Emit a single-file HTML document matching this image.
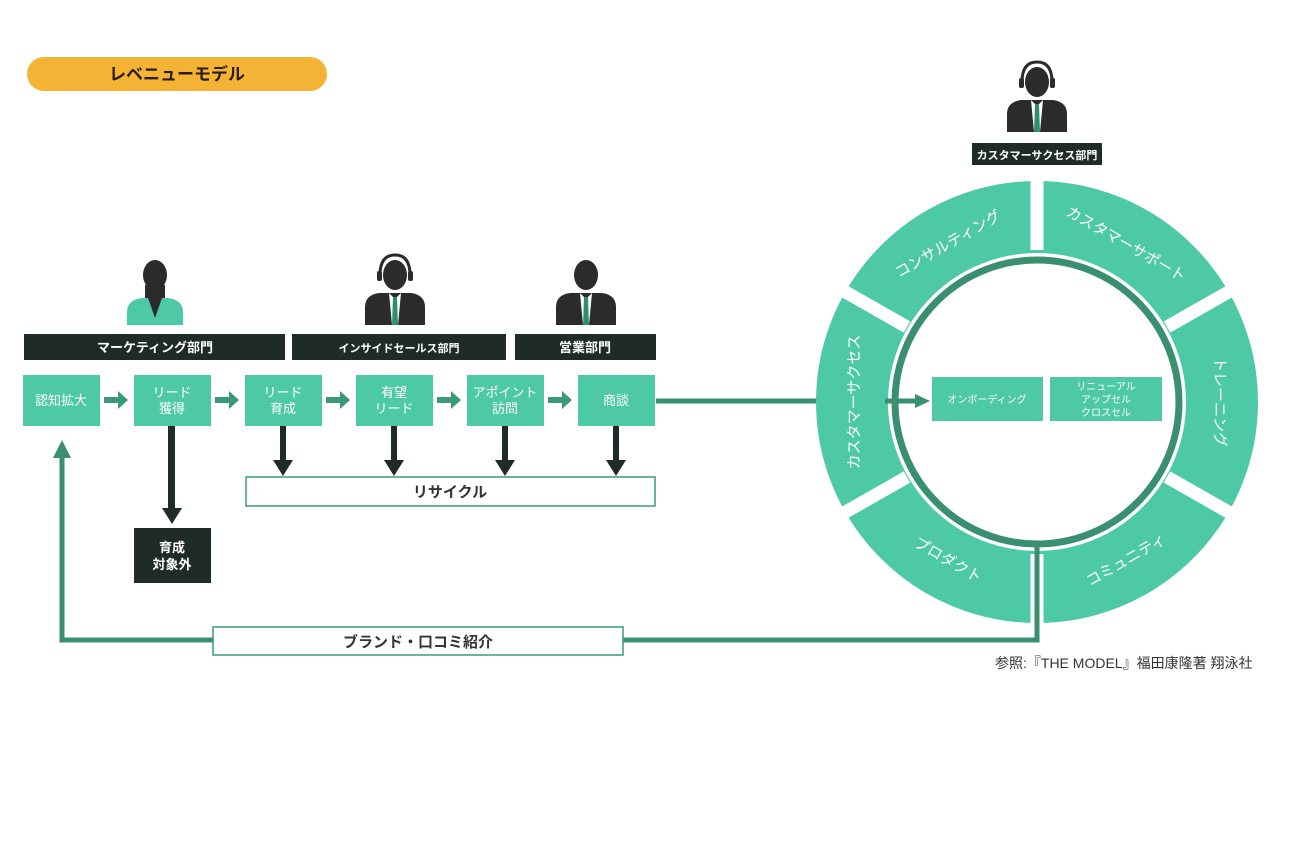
<!DOCTYPE html>
<html><head><meta charset="utf-8"><style>
body{margin:0;background:#fff;width:1290px;height:840px;overflow:hidden;font-family:"Liberation Sans","Noto Sans CJK JP",sans-serif}
</style></head><body>
<svg width="1290" height="840" viewBox="0 0 1290 840" xmlns="http://www.w3.org/2000/svg" font-family="Liberation Sans, Noto Sans CJK JP, sans-serif">
<defs>
<g id="man">
<ellipse cx="0" cy="-50" rx="12" ry="15" fill="#2b2b2b"/>
<path d="M-30 0 L-30 -18 Q-30 -30 -16 -32 L16 -32 Q30 -30 30 -18 L30 0 Z" fill="#2b2b2b"/>
<path d="M-6 -32 L0 -26 L6 -32 L3 0 L-3 0 Z" fill="#fff"/>
<path d="M-2 -28 L2 -28 L3 0 L-3 0 Z" fill="#2d8f6c"/>
</g>
<g id="head"><path d="M-15 -50 Q-15 -70 0 -70 Q15 -70 15 -50" fill="none" stroke="#2b2b2b" stroke-width="3"/><rect x="-18" y="-54" width="5" height="10" rx="2" fill="#2b2b2b"/><rect x="13" y="-54" width="5" height="10" rx="2" fill="#2b2b2b"/></g>
</defs>
<rect x="27" y="57" width="300" height="34" rx="17" fill="#f5b335"/>
<text x="177" y="80" font-size="17" font-weight="bold" fill="#2a1d10" text-anchor="middle">レベニューモデル</text>

<!-- woman -->
<ellipse cx="155" cy="275" rx="12" ry="15" fill="#2b2b2b"/>
<path d="M145 285 L145 300 L165 300 L165 285 Z" fill="#2b2b2b"/>
<path d="M127 325 L127 312 Q127 300 142 298 L168 298 Q183 300 183 312 L183 325 Z" fill="#4ec9a6"/>
<path d="M148 298 L155 318 L162 298 Z" fill="#2b2b2b"/>
<use href="#man" x="395" y="325"/><use href="#head" x="395" y="325"/>
<use href="#man" x="586" y="325"/>
<use href="#man" x="1037" y="132"/><use href="#head" x="1037" y="132"/>

<g fill="#1e2b27">
<rect x="24" y="334" width="261" height="26"/>
<rect x="292" y="334" width="214" height="26"/>
<rect x="515" y="334" width="141" height="26"/>
<rect x="972" y="143" width="130" height="22"/>
<rect x="134" y="528" width="77" height="55"/>
</g>
<g fill="#fff" font-size="13" font-weight="bold" text-anchor="middle">
<text x="155" y="352">マーケティング部門</text>
<text x="399" y="352" font-size="11">インサイドセールス部門</text>
<text x="585" y="352">営業部門</text>
<text x="1037" y="159" font-size="11">カスタマーサクセス部門</text>
<text x="172" y="552">育成</text><text x="172" y="569">対象外</text>
</g>

<g fill="#4ec9a6">
<rect x="23" y="375" width="77" height="51"/><rect x="134" y="375" width="77" height="51"/>
<rect x="245" y="375" width="77" height="51"/><rect x="356" y="375" width="77" height="51"/>
<rect x="467" y="375" width="77" height="51"/><rect x="578" y="375" width="77" height="51"/>
</g>
<g fill="#fff" font-size="13" text-anchor="middle">
<text x="61" y="405">認知拡大</text>
<text x="172" y="397">リード</text><text x="172" y="413">獲得</text>
<text x="283" y="397">リード</text><text x="283" y="413">育成</text>
<text x="394" y="397">有望</text><text x="394" y="413">リード</text>
<text x="505" y="397">アポイント</text><text x="505" y="413">訪問</text>
<text x="616" y="405">商談</text>
</g>
<g fill="#3a9a78">
<path d="M104 397 h14 v-6 l10 9 l-10 9 v-6 h-14z"/>
<path d="M215 397 h14 v-6 l10 9 l-10 9 v-6 h-14z"/>
<path d="M326 397 h14 v-6 l10 9 l-10 9 v-6 h-14z"/>
<path d="M437 397 h14 v-6 l10 9 l-10 9 v-6 h-14z"/>
<path d="M548 397 h14 v-6 l10 9 l-10 9 v-6 h-14z"/>
</g>
<g fill="#1e2b27">
<path d="M168 426 h7 v82 h7 l-10 16 l-10 -16 h6z"/>
<path d="M280 426 h6 v34 h7 l-10 16 l-10 -16 h7z"/>
<path d="M391 426 h6 v34 h7 l-10 16 l-10 -16 h7z"/>
<path d="M502 426 h6 v34 h7 l-10 16 l-10 -16 h7z"/>
<path d="M613 426 h6 v34 h7 l-10 16 l-10 -16 h7z"/>
</g>
<rect x="246" y="477" width="409" height="29" fill="#fff" stroke="#3a9a78" stroke-width="1.5"/>
<text x="450" y="497" font-size="15" font-weight="bold" fill="#333" text-anchor="middle">リサイクル</text>

<path d="M656 401 H918" stroke="#3a8f70" stroke-width="5" fill="none"/>
<!-- ring -->
<circle cx="1037" cy="402" r="185" fill="none" stroke="#4ec9a6" stroke-width="72"/>
<g stroke="#fff" stroke-width="13">
<line x1="1037" y1="250" x2="1037" y2="178"/>
<line x1="1037" y1="554" x2="1037" y2="626"/>
<line x1="1167" y1="327" x2="1232" y2="290"/>
<line x1="1167" y1="477" x2="1232" y2="514"/>
<line x1="907" y1="327" x2="842" y2="290"/>
<line x1="907" y1="477" x2="842" y2="514"/>
</g>
<circle cx="1037" cy="402" r="142" fill="#fff" stroke="#3a8f70" stroke-width="7"/>
<path d="M885 401 H918" stroke="#3a8f70" stroke-width="5" fill="none"/>
<g fill="#fff" font-size="15" text-anchor="middle">
<text transform="translate(948,244) rotate(-30)" y="5">コンサルティング</text>
<text transform="translate(1126,244) rotate(30)" y="5">カスタマーサポート</text>
<text transform="translate(1220,402) rotate(90)" y="5">トレーニング</text>
<text transform="translate(1126,560) rotate(-30)" y="5">コミュニティ</text>
<text transform="translate(948,560) rotate(30)" y="5">プロダクト</text>
<text transform="translate(854,402) rotate(-90)" y="5">カスタマーサクセス</text>
</g>
<rect x="932" y="377" width="111" height="44" fill="#4ec9a6"/>
<rect x="1050" y="377" width="112" height="44" fill="#4ec9a6"/>
<g fill="#fff" font-size="10" text-anchor="middle">
<text x="987" y="403">オンボーディング</text>
<text x="1106" y="390">リニューアル</text><text x="1106" y="403">アップセル</text><text x="1106" y="416">クロスセル</text>
</g>
<g stroke="#3a8f70" stroke-width="5" fill="none">
<path d="M1037 545 V640 H623"/>
<path d="M213 640 H62 V455"/>
</g>
<path d="M915 394 L930 401 L915 408Z" fill="#3a8f70"/>
<path d="M53 458 L62 440 L71 458Z" fill="#3a8f70"/>
<rect x="213" y="627" width="410" height="28" fill="#fff" stroke="#3a9a78" stroke-width="1.5"/>
<text x="418" y="647" font-size="15" font-weight="bold" fill="#333" text-anchor="middle">ブランド・口コミ紹介</text>
<text x="995" y="668" font-size="14" fill="#333">参照:『THE MODEL』福田康隆著 翔泳社</text>
</svg>
</body></html>
